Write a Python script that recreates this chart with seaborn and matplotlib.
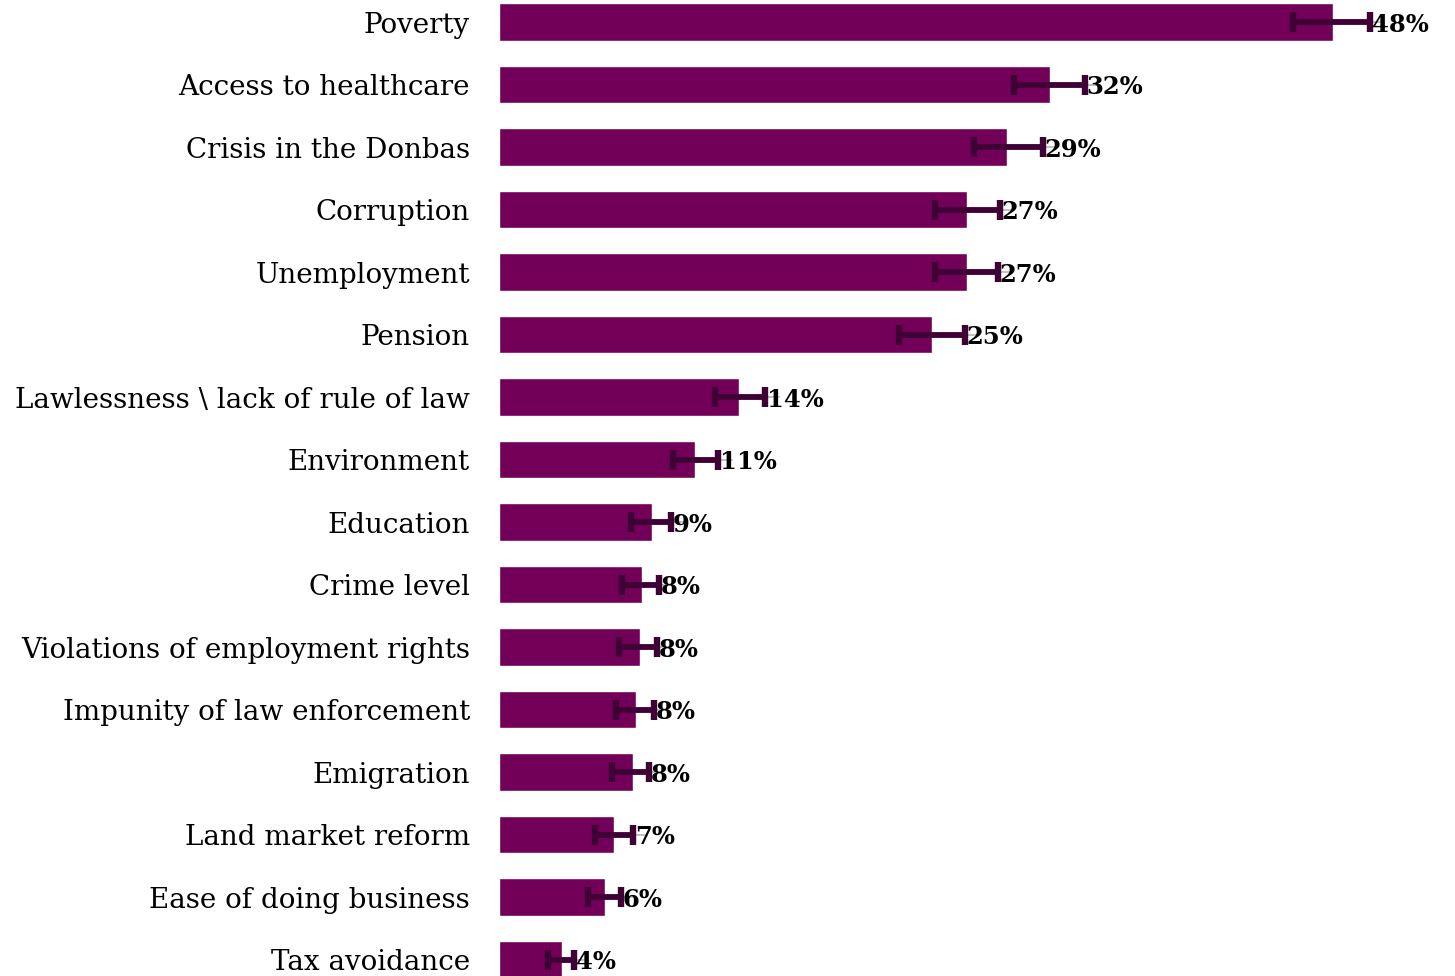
import seaborn as sns
import matplotlib.pyplot as plt
import pandas as pd

# Share of respondents naming each issue (%), with lower/upper bounds
issues = ['Poverty', 'Access to healthcare', 'Crisis in the Donbas', 'Corruption',
          'Unemployment', 'Pension', 'Lawlessness \\ lack of rule of law',
          'Environment', 'Education', 'Crime level',
          'Violations of employment rights', 'Impunity of law enforcement',
          'Emigration', 'Land market reform', 'Ease of doing business',
          'Tax avoidance']
share = [48.0, 31.7, 29.2, 26.9, 26.9, 24.9, 13.8, 11.3, 8.8, 8.2, 8.1, 7.9,
         7.7, 6.6, 6.1, 3.6]
lower = [45.7, 29.6, 27.3, 25.1, 25.1, 23.0, 12.4, 10.0, 7.6, 7.1, 6.9, 6.7,
         6.5, 5.5, 5.1, 2.8]
upper = [50.1, 33.7, 31.3, 28.8, 28.7, 26.8, 15.3, 12.6, 9.9, 9.2, 9.1, 8.9,
         8.6, 7.7, 7.0, 4.3]
labels = ['48%', '32%', '29%', '27%', '27%', '25%', '14%', '11%', '9%', '8%',
          '8%', '8%', '8%', '7%', '6%', '4%']

df = pd.DataFrame({'issue': issues, 'share': share, 'lower': lower, 'upper': upper})

sns.set_style('white')
plt.rcParams['font.family'] = ['DejaVu Serif', 'Liberation Serif']

bar_color = '#730058'
err_color = '#3f0036'

fig = plt.figure(figsize=(14.55, 9.76), dpi=100)
ax = fig.add_axes([0.343, 0.0, 0.657, 1.0])

sns.barplot(data=df, x='share', y='issue', orient='h', color=bar_color,
            saturation=1, width=0.6, ax=ax)

ypos = range(len(df))
# thin grey leader from bar end towards the label
for y, v, u in zip(ypos, df['share'], df['upper']):
    ax.plot([v, u + 0.8], [y, y], color='#b5b5b5', lw=1.2, zorder=3)

ax.errorbar(df['share'], list(ypos),
            xerr=[df['share'] - df['lower'], df['upper'] - df['share']],
            fmt='none', ecolor=err_color, elinewidth=4.2, capsize=7.5,
            capthick=4.6, zorder=4)

for y, u, lab in zip(ypos, df['upper'], labels):
    ax.text(u + 0.1, y + 0.04, lab, va='center', ha='left', fontsize=17.5,
            fontweight='bold', color='black', zorder=5)

ax.set_xlim(0, 55)
ax.set_ylim(15.26, -0.352)
ax.set_xlabel('')
ax.set_ylabel('')
ax.set_xticks([])
ax.tick_params(axis='y', length=0, pad=21, labelsize=20, labelcolor='black')
sns.despine(ax=ax, left=True, bottom=True)

fig.savefig('out.png', dpi=100)
